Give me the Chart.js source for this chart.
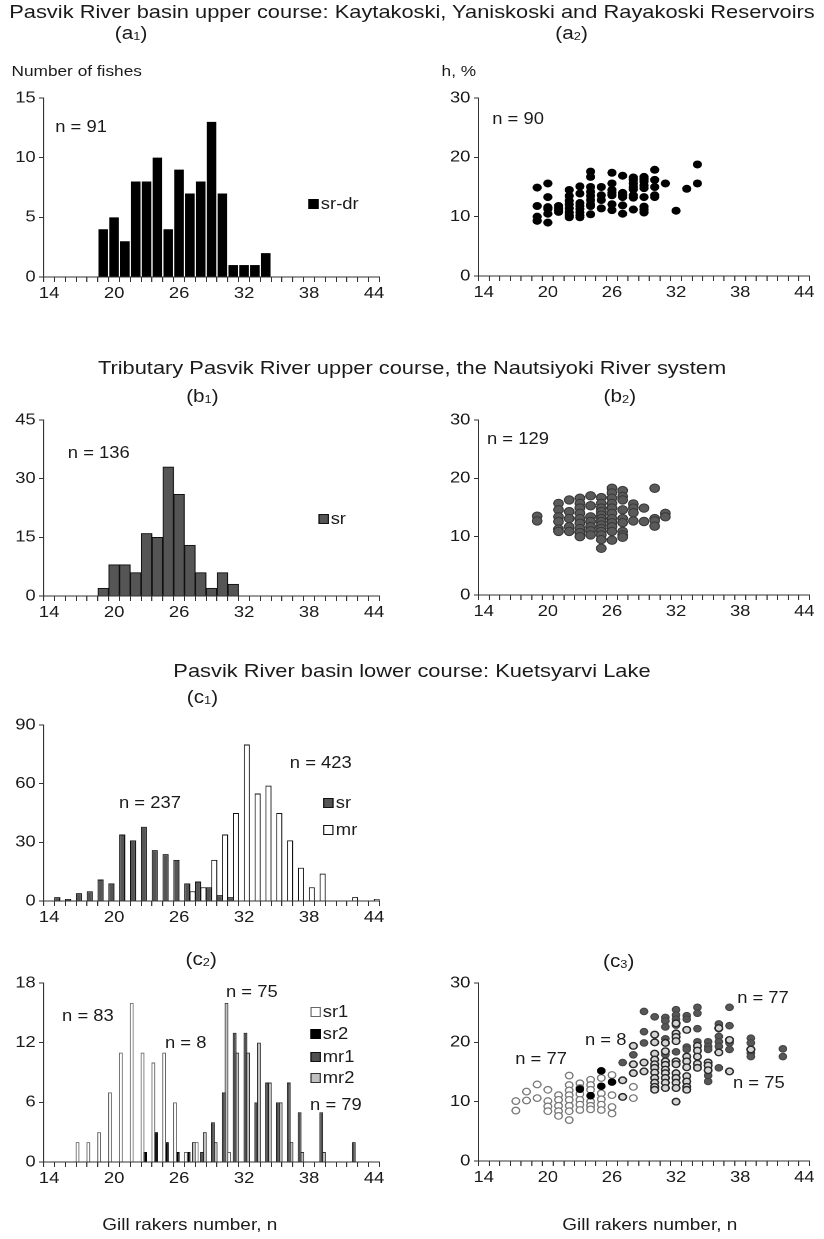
<!DOCTYPE html>
<html>
<head>
<meta charset="utf-8">
<script src="https://cdn.jsdelivr.net/npm/chart.js@4.4.1/dist/chart.umd.min.js"></script>
<style>
  html, body { margin: 0; padding: 0; background: #fff; }
  body { width: 824px; height: 1239px; overflow: hidden; }
  /* the source figure is stretched sideways, so the whole sheet is too */
  #sheet { position: relative; width: 716.5px; height: 1239px; transform: scaleX(1.15); transform-origin: 0 0;
           font-family: 'Liberation Sans', Arial, sans-serif; color: #1a1a1a; }
  .t { position: absolute; white-space: nowrap; line-height: 1; }
  .title { left: 0; width: 716.5px; text-align: center; font-size: 19px; }
  .tag { font-size: 18px; transform: translateX(-50%); }
  .tag sub { font-size: 62%; vertical-align: -0.12em; }
  .ann { font-size: 16px; }
  .lab { font-size: 15px; }
  .cap { font-size: 16.5px; transform: translateX(-50%); }
  .panel { position: absolute; }
  .leg { position: absolute; font-size: 16px; line-height: 1; white-space: nowrap; }
  .leg i { display: inline-block; width: 7px; height: 8px; border: 1px solid #111; margin-right: 2px; vertical-align: 0px; }
</style>
</head>
<body>
<div id="sheet">
  <div class="t title" style="top:1.5px">Pasvik River basin upper course: Kaytakoski, Yaniskoski and Rayakoski Reservoirs</div>
  <div class="t tag" style="left:114px;top:24px">(a<sub>1</sub>)</div>
  <div class="t tag" style="left:497px;top:24px">(a<sub>2</sub>)</div>
  <div class="t lab" style="left:10px;top:62.5px">Number of fishes</div>
  <div class="t lab" style="left:384px;top:62.5px">h, %</div>

  <div class="t title" style="top:357.5px">Tributary Pasvik River upper course, the Nautsiyoki River system</div>
  <div class="t tag" style="left:176px;top:387px">(b<sub>1</sub>)</div>
  <div class="t tag" style="left:539px;top:387px">(b<sub>2</sub>)</div>

  <div class="t title" style="top:660.5px">Pasvik River basin lower course: Kuetsyarvi Lake</div>
  <div class="t tag" style="left:176px;top:688px">(c<sub>1</sub>)</div>
  <div class="t tag" style="left:175px;top:950px">(c<sub>2</sub>)</div>
  <div class="t tag" style="left:538px;top:952px">(c<sub>3</sub>)</div>

  <div class="panel" id="a1"><canvas></canvas></div>
  <div class="panel" id="a2"><canvas></canvas></div>
  <div class="panel" id="b1"><canvas></canvas></div>
  <div class="panel" id="b2"><canvas></canvas></div>
  <div class="panel" id="c1"><canvas></canvas></div>
  <div class="panel" id="c2"><canvas></canvas></div>
  <div class="panel" id="c3"><canvas></canvas></div>

  <div class="t ann" style="left:48px;top:119px">n = 91</div>
  <div class="t ann" style="left:428px;top:111px">n = 90</div>
  <div class="t ann" style="left:59px;top:445px">n = 136</div>
  <div class="t ann" style="left:423.5px;top:431px">n = 129</div>
  <div class="t ann" style="left:103.5px;top:795px">n = 237</div>
  <div class="t ann" style="left:252px;top:755px">n = 423</div>
  <div class="t ann" style="left:54px;top:1008px">n = 83</div>
  <div class="t ann" style="left:143.5px;top:1035px">n = 8</div>
  <div class="t ann" style="left:196.5px;top:984px">n = 75</div>
  <div class="t ann" style="left:269.6px;top:1097px">n = 79</div>
  <div class="t ann" style="left:448px;top:1051px">n = 77</div>
  <div class="t ann" style="left:508.7px;top:1032px">n = 8</div>
  <div class="t ann" style="left:641px;top:990px">n = 77</div>
  <div class="t ann" style="left:637.4px;top:1075px">n = 75</div>

  <div class="leg" style="left:268px;top:196px"><i style="background:#000;border-color:#000"></i>sr-dr</div>
  <div class="leg" style="left:276.5px;top:511px"><i style="background:#555"></i>sr</div>
  <div class="leg" style="left:281px;top:795px"><i style="background:#555"></i>sr</div>
  <div class="leg" style="left:281px;top:822px"><i style="background:#fff"></i>mr</div>
  <div class="leg" style="left:269.6px;top:1004px"><i style="background:#fff;border-color:#666"></i>sr1</div>
  <div class="leg" style="left:269.6px;top:1026px"><i style="background:#000;border-color:#000"></i>sr2</div>
  <div class="leg" style="left:269.6px;top:1049px"><i style="background:#505050"></i>mr1</div>
  <div class="leg" style="left:269.6px;top:1070px"><i style="background:#c0c0c0;border-color:#333"></i>mr2</div>

  <div class="t cap" style="left:165px;top:1216px">Gill rakers number, n</div>
  <div class="t cap" style="left:565px;top:1216px">Gill rakers number, n</div>
</div>

<script>
// gill raker counts along the x axis
const GILL = [14, 15, 16, 17, 18, 19, 20, 21, 22, 23, 24, 25, 26, 27, 28, 29,
              30, 31, 32, 33, 34, 35, 36, 37, 38, 39, 40, 41, 42, 43, 44];
const X_LABELED = [14, 20, 26, 32, 38, 44];

// histograms (number of fishes per gill raker count)
const A1_SRDR = [0, 0, 0, 0, 0, 4, 5, 3, 8, 8, 10, 4, 9, 7, 8, 13, 7, 1, 1, 1, 2, 0, 0, 0, 0, 0, 0, 0, 0, 0, 0];
const B1_SR   = [0, 0, 0, 0, 0, 2, 8, 8, 6, 16, 15, 33, 26, 13, 6, 2, 6, 3, 0, 0, 0, 0, 0, 0, 0, 0, 0, 0, 0, 0, 0];
const C1_SR   = [0, 2, 1, 4, 5, 11, 9, 34, 31, 38, 26, 24, 21, 9, 10, 7, 3, 2, 0, 0, 0, 0, 0, 0, 0, 0, 0, 0, 0, 0, 0];
const C1_MR   = [0, 0, 0, 0, 0, 0, 0, 0, 0, 0, 0, 0, 0, 5, 7, 21, 34, 45, 80, 55, 59, 45, 31, 17, 7, 14, 0, 0, 2, 0, 1];
const C2_SR1  = [0, 0, 0, 2, 2, 3, 7, 11, 16, 11, 10, 11, 6, 1, 2, 0, 0, 1, 0, 0, 0, 0, 0, 0, 0, 0, 0, 0, 0, 0, 0];
const C2_SR2  = [0, 0, 0, 0, 0, 0, 0, 0, 0, 1, 3, 2, 1, 1, 0, 0, 0, 0, 0, 0, 0, 0, 0, 0, 0, 0, 0, 0, 0, 0, 0];
const C2_MR1  = [0, 0, 0, 0, 0, 0, 0, 0, 0, 0, 0, 0, 0, 0, 1, 4, 7, 13, 13, 6, 8, 6, 8, 5, 0, 5, 0, 0, 2, 0, 0];
const C2_MR2  = [0, 0, 0, 0, 0, 0, 0, 0, 0, 0, 0, 0, 0, 2, 3, 2, 16, 11, 11, 12, 8, 6, 2, 1, 0, 1, 0, 0, 0, 0, 0];

// h, % against gill raker count: [count, [h values]]
const A2_H = [
  [19, [14.9, 11.8, 10.0, 9.3]],
  [20, [15.6, 13.3, 11.6, 11.3, 10.5, 9.0]],
  [21, [11.8, 11.4, 11.1, 10.8]],
  [22, [14.5, 13.5, 12.7, 12.1, 11.4, 10.7, 10.2, 9.9]],
  [23, [15.1, 13.9, 12.3, 11.8, 11.3, 10.7, 10.2, 9.9]],
  [24, [17.6, 16.7, 15.0, 14.2, 13.5, 12.8, 12.1, 11.8, 10.4]],
  [25, [15.0, 13.6, 12.8, 11.4]],
  [26, [17.4, 15.6, 14.5, 14.0, 13.6, 12.1, 11.1]],
  [27, [16.9, 14.0, 13.6, 13.3, 11.9, 10.5]],
  [28, [16.6, 16.2, 15.6, 15.0, 14.6, 13.6, 13.2, 11.2]],
  [29, [16.7, 16.3, 15.9, 15.3, 14.8, 13.3, 11.7, 11.2, 10.7]],
  [30, [17.9, 16.2, 15.0, 13.6, 13.3]],
  [31, [15.6]],
  [32, [11.0]],
  [33, [14.7]],
  [34, [18.8, 15.6]]
];
const B2_H = [
  [19, [13.5, 12.7]],
  [21, [15.7, 14.6, 13.4, 12.6, 11.3, 10.9]],
  [22, [16.3, 14.3, 13.1, 11.7, 10.9]],
  [23, [16.6, 15.7, 14.9, 14.0, 13.1, 12.3, 11.4, 10.7, 10.0]],
  [24, [17.0, 15.3, 13.4, 12.6, 11.7, 11.0, 10.3]],
  [25, [16.7, 15.7, 14.9, 14.3, 13.7, 13.1, 12.6, 12.0, 11.4, 10.9, 10.3, 9.5, 8.0]],
  [26, [18.3, 17.5, 16.6, 15.7, 14.9, 14.0, 13.1, 12.4, 11.7, 10.9, 9.4]],
  [27, [17.9, 16.9, 16.3, 14.6, 13.1, 12.4, 10.9, 10.3, 9.9]],
  [28, [15.6, 14.9, 14.1, 12.7]],
  [29, [14.9, 12.6]],
  [30, [18.3, 13.1, 12.7, 11.8]],
  [31, [14.0, 13.4]]
];
const C3_SR1 = [
  [17, [10.1, 8.5]],
  [18, [11.7, 10.2]],
  [19, [12.9, 10.6]],
  [20, [12.0, 10.1, 9.2, 8.4]],
  [21, [11.1, 10.3, 9.3, 8.4, 7.6]],
  [22, [14.4, 12.8, 11.9, 11.1, 10.3, 9.3, 8.4, 6.9]],
  [23, [13.1, 12.3, 11.3, 10.3, 9.5, 8.6]],
  [24, [13.7, 12.8, 12.0, 10.0, 9.3, 8.7]],
  [25, [14.0, 11.4, 10.4, 9.5, 8.6]],
  [26, [14.5, 11.1, 9.1, 8.0]],
  [28, [12.5, 10.6]]
];
const C3_SR2 = [
  [23, [12.1]],
  [24, [11.0]],
  [25, [15.2, 12.6]],
  [26, [13.3]]
];
const C3_MR1 = [
  [27, [16.6]],
  [28, [17.9]],
  [29, [25.2, 21.8, 19.9]],
  [30, [24.3]],
  [31, [24.2, 23.6, 22.6, 20.6, 17.9]],
  [32, [25.5, 24.6, 23.9, 22.9, 18.4]],
  [33, [24.5, 23.9, 19.2, 18.8]],
  [34, [25.9, 24.9, 22.3, 20.1]],
  [35, [20.1, 19.3, 18.8, 14.4, 13.4]],
  [36, [23.1, 22.3, 21.0, 20.1, 19.3, 15.7]],
  [37, [25.9, 22.8, 19.9, 18.8]],
  [39, [20.7, 19.9, 18.2, 17.6]],
  [42, [18.9, 17.6]]
];
const C3_MR2 = [
  [27, [13.6, 10.8]],
  [28, [19.4, 16.3, 14.8]],
  [29, [16.6, 15.1]],
  [30, [21.3, 20.0, 18.1, 17.1, 16.3, 15.7, 14.9, 14.0, 13.2, 12.5, 12.0]],
  [31, [19.9, 18.5, 16.8, 16.2, 15.4, 14.8, 14.0, 13.2, 12.3]],
  [32, [23.2, 21.5, 20.9, 20.2, 16.8, 16.3, 14.8, 14.0, 13.2, 12.3, 10.0]],
  [33, [22.1, 17.6, 16.8, 15.8, 14.3, 13.4, 12.5, 12.0]],
  [34, [19.4, 18.6, 17.6, 16.4, 15.7]],
  [35, [16.6, 16.1, 15.3]],
  [36, [22.4, 18.3]],
  [37, [20.4, 15.1]],
  [39, [18.8]]
];

const INK = '#1a1a1a';
const AXIS = '#333';
const TICK_FONT = { family: "'Liberation Sans', Arial, sans-serif", size: 16 };
const YW = 38, PT = 14, PR = 14, XH = 30;

function points(cols) {
    const out = [];
    cols.forEach(([x, ys]) => ys.forEach(y => out.push({ x: x, y: y })));
    return out;
}

function scales(yMax, yStep) {
    return {
        x: {
            type: 'category',
            offset: true,
            grid: { offset: true, drawOnChartArea: false, tickLength: 5, color: AXIS },
            border: { color: AXIS, width: 1 },
            ticks: {
                autoSkip: false, maxRotation: 0, minRotation: 0, padding: 2,
                color: INK, font: TICK_FONT,
                callback: (v, i) => X_LABELED.includes(GILL[i]) ? String(GILL[i]) : ''
            },
            afterFit: s => { s.height = XH; }
        },
        y: {
            min: 0,
            max: yMax,
            grid: { drawOnChartArea: false, tickLength: 4, color: AXIS },
            border: { color: AXIS, width: 1 },
            ticks: { stepSize: yStep, padding: 3, color: INK, font: TICK_FONT },
            afterFit: s => { s.width = YW; }
        }
    };
}

// box = [plot left, plot right, plot top, plot bottom] on the sheet
function panel(id, box, type, datasets, yMax, yStep) {
    const el = document.getElementById(id);
    el.style.left = (box[0] - YW) + 'px';
    el.style.top = (box[2] - PT) + 'px';
    el.style.width = (box[1] - box[0] + YW + PR) + 'px';
    el.style.height = (box[3] - box[2] + PT + XH) + 'px';
    new Chart(el.querySelector('canvas'), {
        type: type,
        data: { labels: GILL, datasets: datasets },
        options: {
            responsive: true,
            maintainAspectRatio: false,
            animation: false,
            devicePixelRatio: 2,
            events: [],
            layout: { padding: { top: PT, right: PR, left: 0, bottom: 0 } },
            plugins: { legend: { display: false }, tooltip: { enabled: false } },
            scales: scales(yMax, yStep)
        }
    });
}

function dots(cols, fill, edge, radius, width) {
    return {
        data: points(cols),
        showLine: false,
        pointRadius: radius,
        pointBackgroundColor: fill,
        pointBorderColor: edge,
        pointBorderWidth: width
    };
}

panel('a1', [38, 330, 98, 277], 'bar', [{
    label: 'sr-dr', data: A1_SRDR, backgroundColor: '#000', borderWidth: 0,
    categoryPercentage: 1, barPercentage: 0.88
}], 15, 5);

panel('a2', [416, 704, 98, 276], 'line', [dots(A2_H, '#000', '#000', 4.0, 0)], 30, 10);

panel('b1', [38, 330, 420, 596], 'bar', [{
    label: 'sr', data: B1_SR, backgroundColor: '#555', borderColor: '#111', borderWidth: 1,
    categoryPercentage: 1, barPercentage: 1
}], 45, 15);

panel('b2', [416, 704, 420, 595], 'line', [dots(B2_H, '#5a5a5a', '#383838', 4.2, 1)], 30, 10);

panel('c1', [38, 330, 725, 901], 'bar', [
    { label: 'sr', data: C1_SR, backgroundColor: '#555', borderColor: '#111', borderWidth: 1,
      categoryPercentage: 1, barPercentage: 1.15 },
    { label: 'mr', data: C1_MR, backgroundColor: '#fff', borderColor: '#111', borderWidth: 1,
      categoryPercentage: 1, barPercentage: 1.15 }
], 90, 30);

panel('c2', [38, 330, 983, 1162], 'bar', [
    { label: 'sr1', data: C2_SR1, backgroundColor: '#fff', borderColor: '#666', borderWidth: 1,
      categoryPercentage: 1, barPercentage: 1.45 },
    { label: 'sr2', data: C2_SR2, backgroundColor: '#000', borderColor: '#000', borderWidth: 1,
      categoryPercentage: 1, barPercentage: 1.45 },
    { label: 'mr1', data: C2_MR1, backgroundColor: '#505050', borderColor: '#222', borderWidth: 1,
      categoryPercentage: 1, barPercentage: 1.45 },
    { label: 'mr2', data: C2_MR2, backgroundColor: '#c0c0c0', borderColor: '#333', borderWidth: 1,
      categoryPercentage: 1, barPercentage: 1.45 }
], 18, 6);

panel('c3', [416, 704, 983, 1161], 'line', [
    Object.assign(dots(C3_SR2, '#000', '#000', 3.3, 1), { order: 0 }),
    Object.assign(dots(C3_SR1, '#fff', '#777', 3.3, 1.2), { order: 1 }),
    Object.assign(dots(C3_MR2, '#d4d4d4', '#2a2a2a', 3.3, 1.4), { order: 2 }),
    Object.assign(dots(C3_MR1, '#575757', '#444', 3.3, 1), { order: 3 })
], 30, 10);
</script>
</body>
</html>
